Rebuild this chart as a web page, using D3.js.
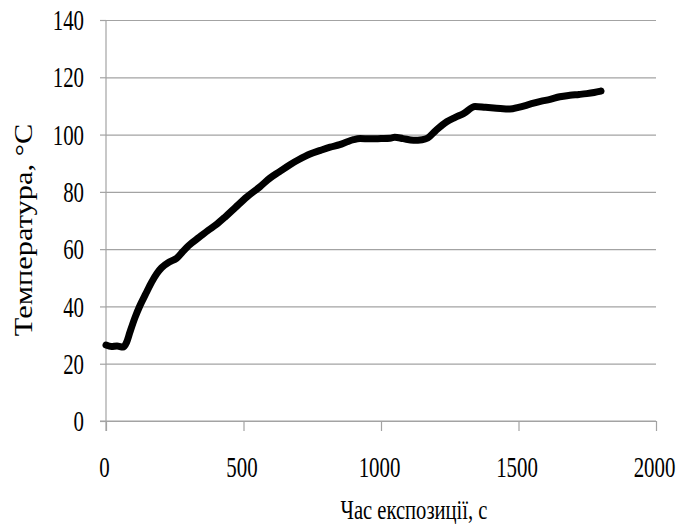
<!DOCTYPE html>
<html>
<head>
<meta charset="utf-8">
<script src="https://cdn.jsdelivr.net/npm/d3@7"></script>
<style>
  body { margin: 0; background: #fff; }
  text { font-family: "Liberation Serif", "Times New Roman", serif; fill: #000; }
</style>
</head>
<body>
<script>
// Chart data
var timeValues = [0, 20, 40, 62, 75, 87, 105, 124, 145, 166, 185, 202, 230, 257, 280, 300,
    340, 372, 400, 433, 470, 512, 560, 596, 630, 669, 700, 742, 780, 815, 850, 875, 900,
    924, 960, 1000, 1033, 1050, 1080, 1118, 1150, 1170, 1200, 1239, 1270, 1300, 1342,
    1380, 1420, 1469, 1500, 1542, 1580, 1615, 1650, 1687, 1720, 1748, 1775, 1800];
var tempValues = [26.5, 26, 26.2, 25.8, 27.5, 31, 36, 40.4, 44.5, 48.5, 51.5, 53.5, 55.5,
    56.8, 59.2, 61.2, 64.2, 66.6, 68.5, 71.2, 74.5, 78.2, 81.8, 84.8, 87, 89.5, 91.2, 93.2,
    94.5, 95.6, 96.5, 97.4, 98.2, 98.6, 98.5, 98.6, 98.7, 99.1, 98.6, 98.0, 98.2, 98.8,
    101.5, 104.5, 106, 107.3, 109.8, 109.5, 109.2, 108.9, 109.5, 110.6, 111.6, 112.3,
    113.2, 113.7, 114.0, 114.3, 114.7, 115.2];
var xTicks = [0, 500, 1000, 1500, 2000];
var yTicks = [0, 20, 40, 60, 80, 100, 120, 140];
var xTitle = "Час експозиції, с";
var yTitle = "Температура, °C";

window.onload = drawChart;

function drawChart() {
    var width = 686, height = 524;
    var left = 106, right = 656, top = 20, bottom = 421;
    var sx = 0.72; // the text in the picture is squeezed sideways

    var svg = d3.select("body").append("svg")
        .attr("width", width)
        .attr("height", height);

    var x = d3.scaleLinear().domain([0, 2000]).range([left, right]);
    var y = d3.scaleLinear().domain([0, 140]).range([bottom, top]);

    // gridlines + y labels
    var yAxis = svg.append("g")
        .attr("transform", "translate(" + left + ",0)")
        .call(d3.axisLeft(y).tickValues(yTicks).tickFormat(d3.format("d"))
            .tickSize(-(right - left)).tickPadding(0));
    yAxis.select(".domain").remove();
    yAxis.selectAll("line").attr("stroke", "#a3a3a3").attr("stroke-width", 1.2);
    // short outer tick to the left of the axis
    yAxis.selectAll(".tick").append("line")
        .attr("x1", -6).attr("x2", 0)
        .attr("stroke", "#a3a3a3").attr("stroke-width", 1.2);
    yAxis.selectAll("text")
        .attr("x", -22 / sx)
        .attr("dy", "0.33em")
        .attr("transform", "scale(" + sx + ",1)")
        .style("font-size", "29px");

    // x axis
    var xAxis = svg.append("g")
        .attr("transform", "translate(0," + bottom + ")")
        .call(d3.axisBottom(x).tickValues(xTicks).tickFormat(d3.format("d"))
            .tickSize(10).tickSizeOuter(0));
    xAxis.select(".domain").attr("d", "M" + (left - 6) + ",0H" + right)
        .attr("stroke", "#a3a3a3").attr("stroke-width", 1.2);
    xAxis.selectAll("line").attr("stroke", "#a3a3a3").attr("stroke-width", 1.2);
    xAxis.selectAll("text")
        .attr("y", 56).attr("dy", 0)
        .attr("x", -2 / sx)
        .attr("transform", "scale(" + sx + ",1)")
        .style("font-size", "29px");

    // y axis line
    svg.append("line")
        .attr("x1", left).attr("x2", left)
        .attr("y1", top).attr("y2", bottom + 10)
        .attr("stroke", "#a3a3a3").attr("stroke-width", 1.2);

    // temperature curve
    var points = timeValues.map(function (t, i) { return [t, tempValues[i]]; });
    var line = d3.line()
        .x(function (d) { return x(d[0]); })
        .y(function (d) { return y(d[1]); })
        .curve(d3.curveMonotoneX);
    svg.append("path")
        .datum(points)
        .attr("d", line)
        .attr("fill", "none")
        .attr("stroke", "#000")
        .attr("stroke-width", 7)
        .attr("stroke-linejoin", "round")
        .attr("stroke-linecap", "round");

    // axis titles
    svg.append("text")
        .attr("transform", "translate(414,519) scale(0.71,0.94)")
        .attr("text-anchor", "middle")
        .style("font-size", "29px")
        .text(xTitle);
    svg.append("text")
        .attr("transform", "translate(32,230) rotate(-90) scale(1.05,0.89)")
        .attr("text-anchor", "middle")
        .style("font-size", "29px")
        .text(yTitle);
}
</script>
</body>
</html>
